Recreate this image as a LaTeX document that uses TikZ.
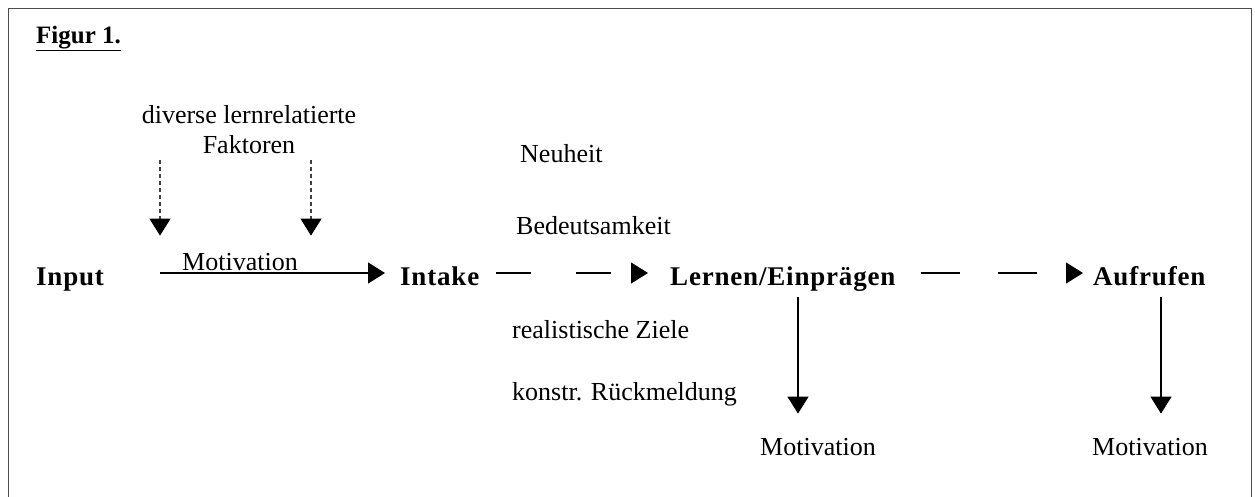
\documentclass[tikz,border=0pt]{standalone}
\usepackage{fontspec}
\setmainfont{Liberation Serif}
\usepackage{tikz}
\usetikzlibrary{arrows.meta,positioning,calc}

\begin{document}
\begin{tikzpicture}[
  x=1pt,y=-1pt,
  txt/.style={inner sep=0pt,font=\fontsize{26}{30}\selectfont},
  stage/.style={inner sep=0pt,font=\fontsize{27}{31}\selectfont\bfseries\addfontfeature{LetterSpace=3}},
  arr/.style={-{Triangle[length=17pt,width=21pt]},line width=1.2pt},
  darr/.style={-{Triangle[length=17pt,width=21pt,color=black]},line width=1.1pt,draw=black!75,dash pattern=on 4pt off 3pt},
  gaparr/.style={arr},
]
\useasboundingbox (0,0) rectangle (1255,496);
\draw[line width=1.6pt,black!70] (8.5,497) -- (8.5,8.5) -- (1251.5,8.5) -- (1251.5,497);
\node[anchor=base west,inner sep=0pt,font=\fontsize{25}{29}\selectfont\bfseries] (fig) at (36,43) {\underline{Figur 1.}};
% main row
\coordinate (row) at (0,273);
\node[stage,anchor=base west] (input) at (36,285) {Input};
\node[stage,anchor=base west] (intake) at (400,285) {Intake};
\node[stage,anchor=base west] (lernen) at (670,285) {Lernen/Einprägen};
\node[stage,anchor=base west] (aufrufen) at (1093,285) {Aufrufen};
% factors
\node[txt,align=center] (faktoren) at (249,130) {diverse lernrelatierte\\Faktoren};
\node[txt,anchor=base] (motiv1) at (240,270) {Motivation};
\node[txt,anchor=base west] (neuheit) at (520,162) {Neuheit};
\node[txt,anchor=base west] (bedeut) at (516,234) {Bedeutsamkeit};
\node[txt,anchor=base west] (ziele) at (512,338) {realistische Ziele};
\node[txt,anchor=base west] (rueck) at (512,400) {konstr. Rückmeldung};
\node[txt,anchor=base] (motiv2) at (818,455) {Motivation};
\node[txt,anchor=base] (motiv3) at (1150,455) {Motivation};
% connectors
\coordinate (d1) at (160,160);
\coordinate (d2) at (311,160);
\coordinate (l0) at (798,297);
\coordinate (a0) at (1161,297);
\draw[darr,shorten >=17pt] (d1) -- (d1 |- motiv1.north);
\draw[darr,shorten >=17pt] (d2) -- (d2 |- motiv1.north);
\draw[arr,shorten <=56pt,shorten >=15pt] (input.east |- row) -- (intake.west |- row);
\draw[gaparr,dash pattern=on 35pt off 45pt,shorten <=17pt,shorten >=22pt] (intake.east |- row) -- (lernen.west |- row);
\draw[gaparr,dash pattern=on 39pt off 38pt,shorten <=25pt,shorten >=10pt] (lernen.east |- row) -- (aufrufen.west |- row);
\draw[arr,shorten >=24pt] (l0) -- (l0 |- motiv2.north);
\draw[arr,shorten >=24pt] (a0) -- (a0 |- motiv3.north);
\end{tikzpicture}
\end{document}
